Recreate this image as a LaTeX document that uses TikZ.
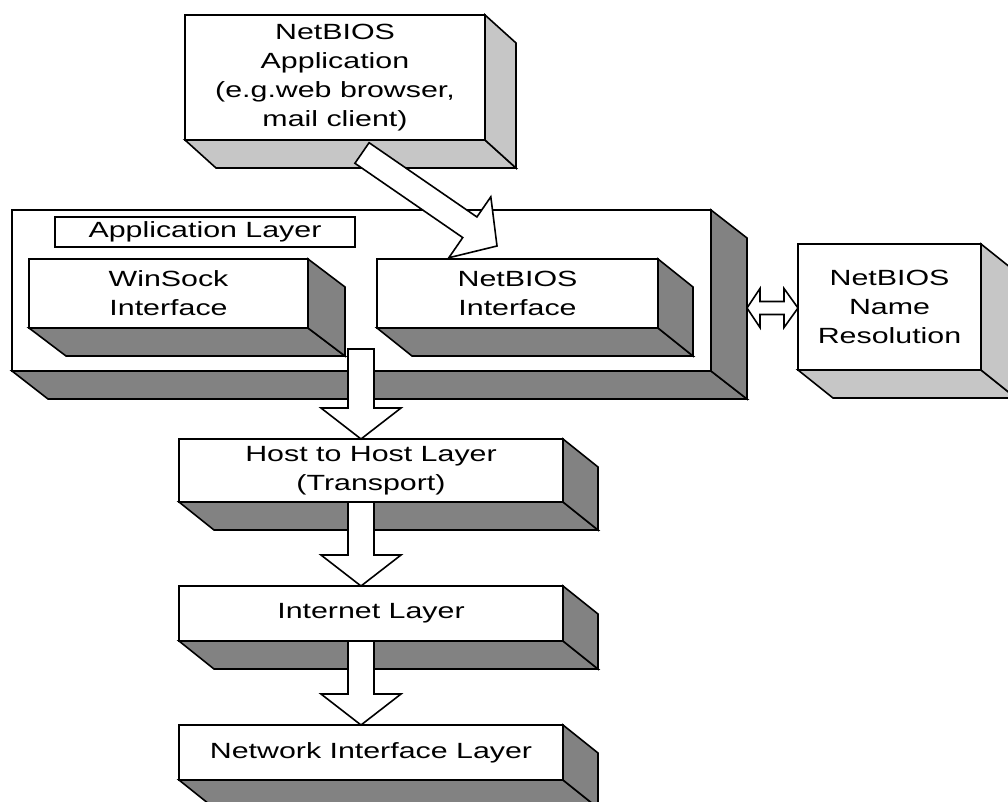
\documentclass[tikz,border=0pt]{standalone}
\usepackage{fontspec}
\setmainfont{Liberation Sans}[FakeStretch=1.38]
\usetikzlibrary{calc}
\definecolor{lightface}{HTML}{C6C6C6}
\definecolor{darkface}{HTML}{828282}
\tikzset{
  outl/.style={line width=1.6pt, line join=miter, draw=black},
  front/.style={outl, fill=white, inner sep=0pt, outer sep=0pt, align=center,
    font=\fontsize{22}{29}\selectfont},
  blockarrow/.style={outl, fill=white},
}
% #1 name, #2 x1, #3 y1, #4 x2, #5 y2, #6 face colour, #7 depth dx, #8 text
\newcommand\cube[8]{%
  \filldraw[outl, fill=#6] (#2,#5) -- (#2+#7,#5+28) -- (#4+#7,#5+28) -- (#4,#5) -- cycle;
  \filldraw[outl, fill=#6] (#4,#3) -- (#4+#7,#3+28) -- (#4+#7,#5+28) -- (#4,#5) -- cycle;
  \node[front, minimum width={(#4-#2)*1pt}, minimum height={(#5-#3)*1pt}]
    (#1) at ({(#2+#4)/2},{(#3+#5)/2}) {#8};
}
% vertical block arrow: #1 start, #2 tip
\newcommand\vblock[2]{%
  \draw[blockarrow] let \p1=#1, \p2=#2 in
    (\x1-13pt,\y1) -- (\x1-13pt,\y2+31pt) -- (\x1-40pt,\y2+31pt) -- (\x1,\y2)
    -- (\x1+40pt,\y2+31pt) -- (\x1+13pt,\y2+31pt) -- (\x1+13pt,\y1) -- cycle;
}
% general block arrow: #1 start, #2 tip, #3 half shaft, #4 half head, #5 head length
\newcommand\gblock[5]{%
  \coordinate (hb) at ($#2!#5!#1$);
  \draw[blockarrow] ($#1!#3!90:#2$) -- ($(hb)!#3!90:#2$) -- ($(hb)!#4!90:#2$) -- #2
    -- ($(hb)!#4!-90:#2$) -- ($(hb)!#3!-90:#2$) -- ($#1!#3!-90:#2$) -- cycle;
}
\begin{document}
\begin{tikzpicture}[x=1pt, y=-1pt]
\fill[white] (0,0) rectangle (1008,802);
\clip (0,0) rectangle (1008,802);

% Application layer container
\cube{app}{12}{210}{711}{371}{darkface}{36}{}
\node[front, minimum width=300pt, minimum height=30pt] (applabel) at (205,232) {Application Layer};
\cube{ws}{29}{259}{308}{328}{darkface}{37}{WinSock\\Interface}
\cube{nbi}{377}{259}{658}{328}{darkface}{35}{NetBIOS\\Interface}

% NetBIOS application
\cube{napp}{185}{15}{485}{140}{lightface}{31}{NetBIOS\\Application\\(e.g.web browser,\\mail client)}

% Name resolution
\cube{nr}{798}{244}{981}{370}{lightface}{35}{NetBIOS\\Name\\Resolution}

% Lower layers
\cube{host}{179}{439}{563}{502}{darkface}{35}{Host to Host Layer\\(Transport)}
\cube{inet}{179}{586}{563}{641}{darkface}{35}{Internet Layer}
\cube{nil}{179}{725}{563}{780}{darkface}{35}{Network Interface Layer}

% connectors
\coordinate (ds) at ($(napp.south)+(27,13)$);
\coordinate (dt) at ($(nbi.north west)+(120,-13)$);
\gblock{(ds)}{(dt)}{12.5pt}{37pt}{33pt}

\coordinate (a1) at (361,349);
\vblock{(a1)}{(a1 |- host.north)}
\coordinate (a2) at ($(host.south)+(-10,0)$);
\vblock{(a2)}{(a2 |- inet.north)}
\coordinate (a3) at ($(inet.south)+(-10,0)$);
\vblock{(a3)}{(a3 |- nil.north)}

\coordinate (dl) at (747,308);
\coordinate (dr) at (dl -| nr.west);
\draw[blockarrow] let \p1=(dl), \p2=(dr) in
  (\x1,\y1) -- (\x1+13pt,\y1+19.5pt) -- (\x1+13pt,\y1+6.5pt) -- (\x2-14pt,\y1+6.5pt)
  -- (\x2-14pt,\y1+19.5pt) -- (\x2,\y1) -- (\x2-14pt,\y1-19.5pt) -- (\x2-14pt,\y1-6.5pt)
  -- (\x1+13pt,\y1-6.5pt) -- (\x1+13pt,\y1-19.5pt) -- cycle;
\end{tikzpicture}
\end{document}
